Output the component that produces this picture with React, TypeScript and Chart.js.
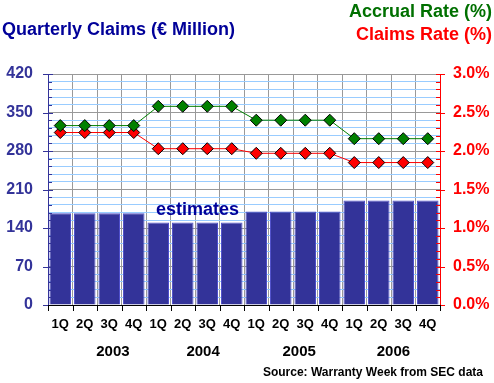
import React, { useEffect, useRef } from "react";
import { Chart, registerables } from "chart.js";

Chart.register(...registerables);

const quarters = ["1Q","2Q","3Q","4Q","1Q","2Q","3Q","4Q","1Q","2Q","3Q","4Q","1Q","2Q","3Q","4Q"];
const years = ["2003", "2004", "2005", "2006"];
const claims = [167,167,167,167,150,150,150,150,170,170,170,170,190,190,190,190];
const accrualRate = [2.33,2.33,2.33,2.33,2.58,2.58,2.58,2.58,2.40,2.40,2.40,2.40,2.16,2.16,2.16,2.16];
const claimsRate = [2.24,2.24,2.24,2.24,2.03,2.03,2.03,2.03,1.97,1.97,1.97,1.97,1.85,1.85,1.85,1.85];
const leftTicks = [0, 70, 140, 210, 280, 350, 420];

const FONT = "'Liberation Sans', Arial, sans-serif";

const overlay = {
  id: "overlay",
  afterDraw(chart: any) {
    const ctx = chart.ctx as CanvasRenderingContext2D;
    const x = chart.scales.x;
    const y = chart.scales.y;
    const area = chart.chartArea;
    ctx.save();
    // left axis line + ticks
    ctx.strokeStyle = "#333399";
    ctx.lineWidth = 1;
    ctx.beginPath();
    ctx.moveTo(area.left + 0.5, area.top);
    ctx.lineTo(area.left + 0.5, area.bottom);
    for (let v = 0; v <= 420; v += 14) {
      const py = Math.round(y.getPixelForValue(v)) + 0.5;
      if (v % 70 === 0) {
        ctx.moveTo(area.left - 5, py);
        ctx.lineTo(area.left + 5, py);
      } else {
        ctx.moveTo(area.left, py);
        ctx.lineTo(area.left + 4, py);
      }
    }
    ctx.stroke();
    // right axis
    ctx.strokeStyle = "#ff0000";
    ctx.beginPath();
    ctx.moveTo(area.right + 0.5, area.top);
    ctx.lineTo(area.right + 0.5, area.bottom);
    for (let v = 0; v <= 420; v += 14) {
      const py = Math.round(y.getPixelForValue(v)) + 0.5;
      if (v % 70 === 0) {
        ctx.moveTo(area.right - 4, py);
        ctx.lineTo(area.right + 5, py);
      } else {
        ctx.moveTo(area.right - 4, py);
        ctx.lineTo(area.right, py);
      }
    }
    ctx.stroke();
    // x ticks
    ctx.strokeStyle = "#000000";
    ctx.beginPath();
    ctx.moveTo(area.left, area.bottom + 0.5);
    ctx.lineTo(area.right, area.bottom + 0.5);
    const n = quarters.length;
    const w = (area.right - area.left) / n;
    for (let i = 0; i <= n; i++) {
      const px = Math.round(area.left + i * w) + 0.5;
      ctx.moveTo(px, area.bottom);
      ctx.lineTo(px, area.bottom + 6);
    }
    ctx.stroke();
    // year labels
    ctx.fillStyle = "#000000";
    ctx.font = `bold 15px ${FONT}`;
    ctx.textAlign = "center";
    ctx.textBaseline = "middle";
    const yearPos = [2.15, 5.83, 9.75, 13.6];
    years.forEach((yr, i) => {
      ctx.fillText(yr, x.getPixelForValue(yearPos[i]), 352);
    });
    // estimates
    ctx.fillStyle = "#000099";
    ctx.font = `bold 18px ${FONT}`;
    ctx.fillText("estimates", x.getPixelForValue(5.6), y.getPixelForValue(173));
    // title
    ctx.textAlign = "left";
    ctx.font = `bold 18px ${FONT}`;
    ctx.fillText("Quarterly Claims (\u20ac Million)", 2, 30);
    // legend
    ctx.textAlign = "right";
    ctx.fillStyle = "#007000";
    ctx.fillText("Accrual Rate (%)", 492, 12);
    ctx.fillStyle = "#ff0000";
    ctx.fillText("Claims Rate (%)", 492, 35);
    // source
    ctx.fillStyle = "#000000";
    ctx.font = `bold 12px ${FONT}`;
    ctx.fillText("Source: Warranty Week from SEC data", 483, 373);
    ctx.restore();
  },
};

export default function App() {
  const ref = useRef<HTMLCanvasElement>(null);
  useEffect(() => {
    document.body.style.margin = "0";
    const chart = new Chart(ref.current!, {
      type: "bar",
      data: {
        labels: quarters,
        datasets: [
          {
            type: "line",
            label: "Accrual Rate (%)",
            data: accrualRate,
            yAxisID: "y1",
            borderColor: "#008000",
            borderWidth: 1,
            backgroundColor: "#008000",
            pointStyle: "rectRot",
            pointRadius: 6,
            pointBorderColor: "#000000",
            pointBorderWidth: 1,
            order: 1,
          },
          {
            type: "line",
            label: "Claims Rate (%)",
            data: claimsRate,
            yAxisID: "y1",
            borderColor: "#ff0000",
            borderWidth: 1,
            backgroundColor: "#ff0000",
            pointStyle: "rectRot",
            pointRadius: 6,
            pointBorderColor: "#000000",
            pointBorderWidth: 1,
            order: 2,
          },
          {
            type: "bar",
            label: "Quarterly Claims",
            data: claims,
            yAxisID: "y",
            backgroundColor: "#333399",
            borderColor: "#5050cc",
            borderWidth: 1,
            barPercentage: 0.88,
            categoryPercentage: 1.0,
            order: 3,
          },
        ],
      },
      options: {
        responsive: false,
        animation: false,
        layout: { padding: { top: 74, left: 0, right: 0, bottom: 0 } },
        plugins: { legend: { display: false }, tooltip: { enabled: false } },
        scales: {
          x: {
            offset: true,
            grid: { offset: true, color: "#999999", drawTicks: false },
            border: { display: false },
            ticks: { color: "#000000", font: { family: FONT, size: 13, weight: "bold" }, padding: 12, maxRotation: 0, autoSkip: false },
            afterFit: (s: any) => { s.height = 78; },
          },
          y: {
            position: "left",
            min: 0,
            max: 420,
            grid: {
              drawTicks: false,
              color: (c: any) => (c.tick && c.tick.value % 70 === 0 ? "#999999" : "#99ccff"),
            },
            border: { display: false },
            afterBuildTicks: (s: any) => {
              const t = [];
              for (let v = 0; v <= 420; v += 14) t.push({ value: v });
              s.ticks = t;
            },
            ticks: {
              autoSkip: false,
              color: "#333399",
              font: { family: FONT, size: 16, weight: "bold" },
              padding: 15,
              callback: (v: any) => (leftTicks.includes(Number(v)) ? String(v) : ""),
            },
            afterFit: (s: any) => { s.width = 48; },
          },
          y1: {
            position: "right",
            min: 0,
            max: 3,
            grid: { display: false, drawTicks: false },
            border: { display: false },
            ticks: {
              autoSkip: false,
              stepSize: 0.5,
              color: "#ff0000",
              font: { family: FONT, size: 16, weight: "bold" },
              padding: 13,
              callback: (v: any) => Number(v).toFixed(1) + "%",
            },
            afterFit: (s: any) => { s.width = 54; },
          },
        },
      },
      plugins: [overlay],
    });
    return () => chart.destroy();
  }, []);
  return <canvas ref={ref} width={494} height={383} />;
}
